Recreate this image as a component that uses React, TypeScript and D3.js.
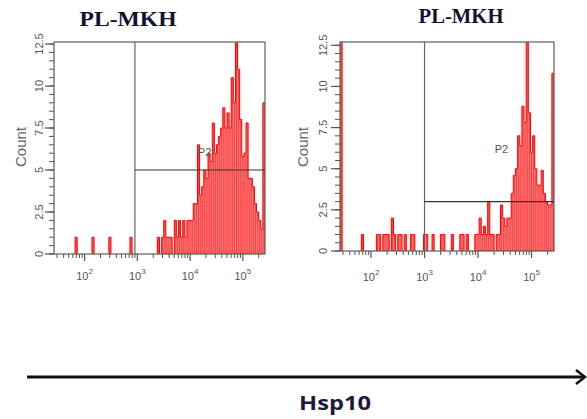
import React from "react";
import * as d3 from "d3";

// histogram bin definition (log10 of fluorescence)
const binLog0 = 1.42;
const binStep = 0.04;

const leftCounts: number[] = [
  0, 0, 0, 0, 0, 0, 0, 0, 0, 0,
  1, 0, 0, 0, 0, 0, 0, 0, 1, 0,
  0, 0, 0, 0, 0, 0, 1, 0, 0, 0,
  0, 0, 0, 0, 0, 0, 1, 0, 0, 0,
  0, 0, 0, 0, 0, 0, 0, 0, 0, 1,
  0, 1, 2, 1, 1, 1, 0, 2, 1, 2,
  1, 2, 1, 2, 2, 2, 3, 3, 6.5, 3.5,
  4, 5, 4.5, 6, 5.5, 7.8, 6, 6.5, 7, 7.5,
  8.7, 7.5, 8.4, 7.5, 10.5, 9, 12.8, 11, 8, 5.8,
  6, 7.8, 4.5, 4.5, 4, 3, 2.5, 2, 1.5, 9,
];

const rightCounts: number[] = [
  14, 0, 0, 0, 0, 0, 0, 0, 0, 0,
  1, 0, 0, 0, 0, 0, 0, 1, 1, 0,
  1, 1, 1, 0, 2, 1, 0, 1, 1, 0,
  1, 0, 0, 1, 1, 0, 0, 0, 0, 1,
  1, 0, 0, 1, 0, 0, 0, 1, 1, 0,
  0, 0, 1, 0, 0, 0, 1, 1, 0, 1,
  0, 0, 0, 1, 1, 2, 1, 1.5, 1, 3,
  1, 1, 0, 1, 1, 2.8, 2, 1.5, 2, 2,
  3.5, 4.6, 5, 7, 6.4, 8.8, 7.8, 12.8, 8.4, 6,
  7, 5, 4, 4, 4.9, 3.5, 3, 2.8, 2.8, 10.8,
];

const titles = ["PL-MKH", "PL-MKH"];
const gateNames = ["P2", "P2"];
const gateX = [900, 1000];
const gateCount = [5, 3];
const gateLabelAt = [[14000, 5.85], [20500, 5.95]];
const yMajor = [0, 2.5, 5, 7.5, 10, 12.5];
const yMajorLabels = ["0", "2.5", "5", "7.5", "10", "12.5"];
const xMajor = [100, 1000, 10000, 100000];
const xMajorExp = ["2", "3", "4", "5"];
const axisTitle = "Hsp10";
const yTitle = "Count";

type PanelProps = {
  id: string;
  counts: number[];
  x0: number; x1: number; y0: number; y1: number;
  yMax: number;
  title: string; titleX: number; titleY: number; titleLen: number; titleSize: number;
  gx: number; gc: number; gLabel: number[]; gName: string;
  labelX: number; countX: number; xLabelY: number;
};

function Panel(p: PanelProps) {
  const x = d3.scaleLog().domain([Math.pow(10, 1.42), Math.pow(10, 5.42)]).range([p.x0, p.x1]);
  const y = d3.scaleLinear().domain([0, p.yMax]).range([p.y1, p.y0]);
  const bins = p.counts.map((c, i) => ({
    a: Math.pow(10, binLog0 + i * binStep),
    b: Math.pow(10, binLog0 + (i + 1) * binStep),
    c,
  }));
  // step-area path over contiguous runs of non-empty bins
  let area = "";
  let open = false;
  bins.forEach((d, i) => {
    if (d.c > 0) {
      if (!open) { area += `M${x(d.a)},${y(0)}`; open = true; }
      area += `V${y(d.c)}H${x(d.b)}`;
    }
    if (open && (d.c <= 0 || i === bins.length - 1)) {
      area += `V${y(0)}Z`;
      open = false;
    }
  });
  const minor: number[] = [];
  for (let e = 1; e <= 5; e++) {
    for (let k = 2; k <= 9; k++) {
      const v = k * Math.pow(10, e);
      if (v > x.domain()[0] && v < x.domain()[1]) minor.push(v);
    }
  }
  const yMinor: number[] = [];
  for (let v = 0; v <= p.yMax; v += 0.5) yMinor.push(v);
  const clip = `clip-${p.id}`;
  return (
    <g>
      <defs>
        <clipPath id={clip}>
          <rect x={p.x0} y={p.y0} width={p.x1 - p.x0} height={p.y1 - p.y0} />
        </clipPath>
      </defs>
      <text x={p.titleX} y={p.titleY} textAnchor="middle" fontFamily="Liberation Serif" fontWeight="bold"
        fontSize={p.titleSize} fill="#121230" textLength={p.titleLen} lengthAdjust="spacingAndGlyphs">{p.title}</text>
      <g clipPath={`url(#${clip})`}>
        <path d={area} fill="#ff7a7a" stroke="none" />
        {bins.map((d, i) => d.c > 0 ? (
          <line key={i} x1={(x(d.a) + x(d.b)) / 2} x2={(x(d.a) + x(d.b)) / 2} y1={y(0)} y2={y(d.c)}
            stroke="#ff0000" strokeWidth={0.9} strokeOpacity={0.55} />
        ) : null)}
        <path d={area} fill="none" stroke="#ff0000" strokeWidth={1} />
      </g>
      <rect x={p.x0} y={p.y0} width={p.x1 - p.x0} height={p.y1 - p.y0} fill="none" stroke="#6a6a6a" strokeWidth={1.3} />
      {/* gate */}
      <line x1={x(p.gx)} x2={x(p.gx)} y1={p.y0} y2={p.y1} stroke="#666" strokeWidth={1.2} />
      <line x1={x(p.gx)} x2={p.x1} y1={y(p.gc)} y2={y(p.gc)} stroke="#333" strokeWidth={1.2} />
      <text x={x(p.gLabel[0])} y={y(p.gLabel[1])} fontFamily="Liberation Sans" fontSize={11} fill="#555">{p.gName}</text>
      {/* x axis ticks */}
      {minor.map((v, i) => (
        <line key={"m" + i} x1={x(v)} x2={x(v)} y1={p.y1} y2={p.y1 + 4} stroke="#555" strokeWidth={1} />
      ))}
      {xMajor.map((v, i) => (
        <g key={"M" + i}>
          <line x1={x(v)} x2={x(v)} y1={p.y1} y2={p.y1 + 7} stroke="#555" strokeWidth={1.2} />
          <text x={x(v)} y={p.xLabelY} textAnchor="middle" fontFamily="Liberation Sans" fontSize={11} fill="#555">
            10<tspan fontSize={8} dy={-6}>{xMajorExp[i]}</tspan>
          </text>
        </g>
      ))}
      {/* y axis ticks */}
      {yMinor.map((v, i) => (
        <line key={"ym" + i} x1={p.x0 - 5} x2={p.x0} y1={y(v)} y2={y(v)} stroke="#555" strokeWidth={1} />
      ))}
      {yMajor.map((v, i) => (
        <g key={"yM" + i}>
          <line x1={p.x0 - 9} x2={p.x0} y1={y(v)} y2={y(v)} stroke="#555" strokeWidth={1.2} />
          <text transform={`translate(${p.labelX},${y(v)}) rotate(-90)`} textAnchor="middle" fontFamily="Liberation Sans"
            fontSize={11} fill="#555">{yMajorLabels[i]}</text>
        </g>
      ))}
      <text transform={`translate(${p.countX},147) rotate(-90)`} textAnchor="middle" fontFamily="Liberation Sans"
        fontSize={15} fill="#666">{yTitle}</text>
    </g>
  );
}

export default function App() {
  return (
    <svg width={587} height={419} style={{ position: "absolute", left: 0, top: 0, background: "#fff" }}>
      <rect width={587} height={419} fill="#fff" />
      <Panel id="l" counts={leftCounts} x0={54} x1={265} y0={42} y1={254} yMax={12.62}
        title={titles[0]} titleX={128} titleY={26} titleLen={97} titleSize={22}
        gx={gateX[0]} gc={gateCount[0]} gLabel={gateLabelAt[0]} gName={gateNames[0]}
        labelX={43} countX={26} xLabelY={280} />
      <Panel id="r" counts={rightCounts} x0={340} x1={554} y0={42} y1={251} yMax={12.7}
        title={titles[1]} titleX={461} titleY={23} titleLen={85} titleSize={21}
        gx={gateX[1]} gc={gateCount[1]} gLabel={gateLabelAt[1]} gName={gateNames[1]}
        labelX={327} countX={308} xLabelY={281} />
      <line x1={27} x2={584} y1={377} y2={377} stroke="#111" strokeWidth={3} />
      <path d="M576,370 L585,377 L576,384" fill="none" stroke="#111" strokeWidth={2.5} />
      <text x={335} y={410} textAnchor="middle" fontFamily="Open Sans" fontWeight="bold" fontSize={20}
        fill="#1c1c3a" textLength={72} lengthAdjust="spacingAndGlyphs">{axisTitle}</text>
    </svg>
  );
}
